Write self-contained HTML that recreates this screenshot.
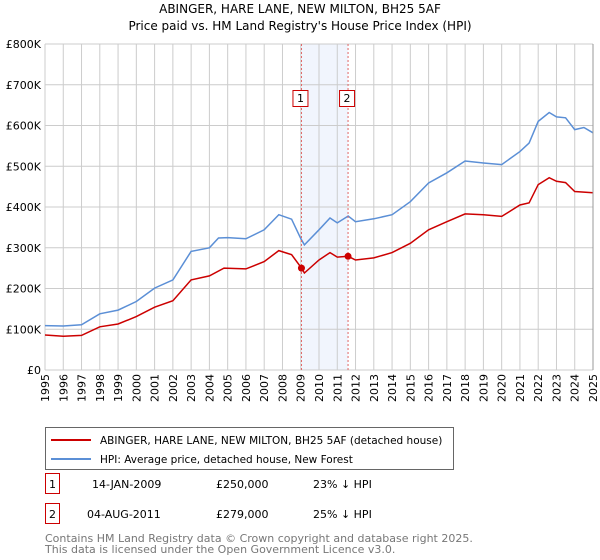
<!DOCTYPE html>
<html><head><meta charset="utf-8"><style>
body{margin:0;background:#fff;font-family:"Liberation Sans","DejaVu Sans",sans-serif}
svg{display:block}
</style></head><body>
<svg id="c" width="600" height="560" xmlns="http://www.w3.org/2000/svg" font-family="DejaVu Sans, Liberation Sans, sans-serif">
<text x="300" y="13" text-anchor="middle" font-size="12" fill="#000">ABINGER, HARE LANE, NEW MILTON, BH25 5AF</text>
<text x="300" y="30" text-anchor="middle" font-size="12" fill="#000">Price paid vs. HM Land Registry's House Price Index (HPI)</text>
<g id="grid"></g><g id="series"></g><g id="ann"></g><g id="axes"></g>
<g>
<rect x="45.5" y="427.5" width="408" height="42" fill="#fff" stroke="#666"/>
<line x1="51" y1="440" x2="91" y2="440" stroke="#cc0000" stroke-width="2"/>
<text x="100" y="444" font-size="10.5">ABINGER, HARE LANE, NEW MILTON, BH25 5AF (detached house)</text>
<line x1="51" y1="459" x2="91" y2="459" stroke="#5b8fd6" stroke-width="2"/>
<text x="100" y="463" font-size="10.5">HPI: Average price, detached house, New Forest</text>
</g>
<g font-size="11">
<rect x="45.5" y="473.5" width="14" height="20" fill="#fff" stroke="#cc0000"/><text x="52.5" y="488" text-anchor="middle">1</text>
<text x="92" y="488">14-JAN-2009</text><text x="216" y="488">£250,000</text><text x="313" y="488">23% ↓ HPI</text>
<rect x="45.5" y="503.5" width="14" height="20" fill="#fff" stroke="#cc0000"/><text x="52.5" y="518" text-anchor="middle">2</text>
<text x="87" y="518">04-AUG-2011</text><text x="216" y="518">£279,000</text><text x="313" y="518">25% ↓ HPI</text>
</g>
<text x="45" y="542" font-size="11" fill="#777">Contains HM Land Registry data © Crown copyright and database right 2025.</text>
<text x="45" y="553" font-size="11" fill="#777">This data is licensed under the Open Government Licence v3.0.</text>
</svg>
<script>
const hpiYears=[1995,1996,1997,1998,1999,2000,2001,2002,2003,2004,2004.5,2005,2006,2007,2007.8,2008.5,2009,2009.2,2010,2010.6,2011,2011.6,2012,2013,2014,2015,2016,2017,2018,2019,2020,2021,2021.5,2022,2022.6,2023,2023.5,2024,2024.5,2025];
const hpiValues=[109,108,111,138,147,168,201,221,291,300,324,325,322,344,381,370,323,307,344,373,361,378,364,371,381,413,459,484,513,508,504,536,557,610,632,621,619,590,595,582];
const ppYears=[1995,1996,1997,1998,1999,2000,2001,2002,2003,2004,2004.8,2006,2007,2007.8,2008.5,2009.04,2009.2,2010,2010.6,2011,2011.6,2012,2013,2014,2015,2016,2017,2018,2019,2020,2021,2021.5,2022,2022.6,2023,2023.5,2024,2025];
const ppValues=[86,83,85,106,113,131,154,170,221,231,250,248,266,293,283,250,238,270,288,277,279,270,275,288,311,344,364,383,381,377,405,410,455,472,463,460,438,435];
const sales=[{t:2009.04,v:250,l:"1"},{t:2011.59,v:279,l:"2"}];
const yTicks=[0,100,200,300,400,500,600,700,800];
const yLabels=["£0","£100K","£200K","£300K","£400K","£500K","£600K","£700K","£800K"];
const xTicks=[1995,1996,1997,1998,1999,2000,2001,2002,2003,2004,2005,2006,2007,2008,2009,2010,2011,2012,2013,2014,2015,2016,2017,2018,2019,2020,2021,2022,2023,2024,2025];
const X0=45,X1=593,Y0=370,Y1=44;
const xs=t=>X0+(t-1995)/30*(X1-X0);
const ys=v=>Y0-v/800*(Y0-Y1);
const NS="http://www.w3.org/2000/svg";
function mk(tag,attrs,parent,txt){const e=document.createElementNS(NS,tag);for(const k in attrs)e.setAttribute(k,attrs[k]);if(txt!==undefined)e.textContent=txt;document.getElementById(parent).appendChild(e);return e;}
const band=mk('rect',{x:xs(sales[0].t),y:Y1,width:xs(sales[1].t)-xs(sales[0].t),height:Y0-Y1,fill:'#f1f5fd'},'grid');


yTicks.forEach((v,i)=>{
 const l=mk('line',{x1:X0,x2:X1,y1:ys(v),y2:ys(v),stroke:'#ccc'},'grid');
 
 
 const t=mk('text',{x:X0-4,y:ys(v)+4,'text-anchor':'end','font-size':11},'axes',yLabels[i]);
 
 
});
xTicks.forEach(y=>{
 const l=mk('line',{x1:xs(y),x2:xs(y),y1:Y1,y2:Y0,stroke:'#ccc'},'grid');
 
 
 const t=mk('text',{x:0,y:0,'text-anchor':'end','font-size':11,transform:`translate(${xs(y)+4},374) rotate(-90)`},'axes',String(y));
 
 
});
function path(xsArr,vs){return xsArr.map((t,i)=>(i?'L':'M')+xs(t).toFixed(1)+','+ys(vs[i]).toFixed(1)).join('');}
const hp=mk('path',{d:path(hpiYears,hpiValues),fill:'none',stroke:'#5b8fd6','stroke-width':1.5},'series');


const pp=mk('path',{d:path(ppYears,ppValues),fill:'none',stroke:'#cc0000','stroke-width':1.5},'series');


sales.forEach(s=>{
 const l=mk('line',{x1:xs(s.t),x2:xs(s.t),y1:Y1,y2:Y0,stroke:'#e06666','stroke-dasharray':'2,2'},'ann');
 
 
 const c=mk('circle',{cx:xs(s.t),cy:ys(s.v),r:3.5,fill:'#cc0000'},'ann');
 
 
 const r=mk('rect',{x:xs(s.t)-8.5,y:90.5,width:15,height:16,fill:'#fff',stroke:'#cc0000'},'ann');
 
 
 const t=mk('text',{x:xs(s.t)-1,y:102,'text-anchor':'middle','font-size':11},'ann',s.l);
 
 
});
const ax=mk('line',{x1:X1,x2:X1,y1:Y1,y2:Y0,stroke:'#999'},'axes');


</script>
</body></html>
